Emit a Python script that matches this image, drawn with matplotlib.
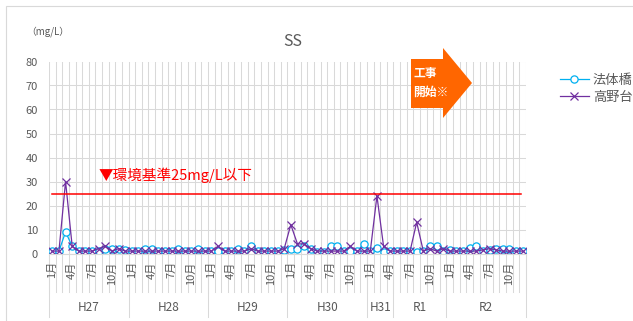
import numpy as np
import matplotlib.pyplot as plt
from matplotlib.patches import Polygon, Rectangle
from matplotlib.lines import Line2D
import matplotlib.transforms as mtransforms

plt.rcParams['font.family'] = ['Noto Sans CJK JP', 'DejaVu Sans']

# fiscal-year groups on the category axis and how many months each holds
groups = ["H27", "H28", "H29", "H30", "H31", "R1", "R2"]
group_sizes = [12, 12, 12, 12, 4, 8, 12]
months = list(range(1, 13)) * 4 + [1, 2, 3, 4] + list(range(5, 13)) + list(range(1, 13))

# SS (mg/L) monthly values
houtai = [1, 1, 9, 3, 1, 1, 1, 1, 2, 2, 2, 1.5,
          1, 1, 2, 2, 1, 1, 1, 2, 1, 1, 2, 1,
          1, 1, 1, 1, 2, 1, 3, 1, 1, 1, 1, 1.5,
          2, 2, 3, 2, 0.5, 0.7, 3, 3, 1, 1, 1, 4,
          1, 2.5, 0.7, 1,
          1, 1, 1, 0.5, 1, 3, 3, 1,
          1.5, 1, 1, 2.5, 3, 1, 1.5, 2, 2, 2, 1, 1]
takanodai = [1, 1, 30, 3, 1, 1, 1, 2, 3, 1, 2, 1,
             1, 1, 1, 1, 1, 1, 1, 1, 1, 1, 1, 1,
             1, 3, 1, 1, 1, 1, 2, 1, 1, 1, 1, 2,
             12, 4, 4, 2, 1, 1, 1, 1, 1, 3, 1, 1,
             1, 24, 3, 1,
             1, 1, 1, 13, 1, 2, 1, 2,
             1, 1, 1, 1, 1, 1.5, 2, 1.5, 1, 1, 1, 1]
standard = 25

W, H = 633, 321
fig = plt.figure(figsize=(W / 100, H / 100), dpi=100)


def fx(px):
    return px / W


def fy(py):
    return 1 - py / H


grey = '#595959'
gridc = '#D9D9D9'

# outer chart frame
fig.add_artist(Rectangle((fx(6), fy(330)), fx(700), fy(6) - fy(330),
                         transform=fig.transFigure, fill=False,
                         edgecolor=gridc, lw=0.8))

ax = fig.add_axes([fx(49), fy(253.5), fx(526) - fx(49), fy(61.5) - fy(253.5)])
n = len(months)
x = np.arange(n)

ax.plot(x, houtai, color='#00B0F0', lw=0.9, marker='o', ms=5.2,
        mfc='white', mec='#00B0F0', mew=0.9, label='法体橋')
ax.plot(x, takanodai, color='#7030A0', lw=0.9, marker='x', ms=5.8,
        mew=0.9, label='高野台')
ax.axhline(standard, xmin=0.006, xmax=0.99, color='#FF0000', lw=1.1)

ax.set_xlim(-0.5, n - 0.5)
ax.set_ylim(0, 80)
ax.set_yticks(range(0, 81, 10))
ax.set_xticks([])
ax.set_xticks(np.arange(-0.5, n, 1), minor=True)
ax.tick_params(axis='x', which='both', length=0, labelbottom=False)
ax.tick_params(axis='y', length=0, labelsize=8, labelcolor=grey, pad=8)
ax.grid(which='minor', axis='x', color=gridc, lw=0.75)
ax.grid(which='major', axis='y', color=gridc, lw=0.75)
ax.set_axisbelow(True)
for s in ['top', 'right', 'left']:
    ax.spines[s].set_visible(False)
ax.spines['bottom'].set_color(gridc)

# month labels and category tick marks below the axis
trans = mtransforms.blended_transform_factory(ax.transData, ax.transAxes)
for i, m in enumerate(months):
    if i % 3 == 0:
        ax.text(i, -0.04, f'{m}月', transform=trans, rotation=90,
                ha='center', va='top', fontsize=8, color=grey)
for b in np.arange(-0.5, n, 1):
    ax.add_line(Line2D([b, b], [0, -0.2], transform=trans, color=gridc,
                       lw=0.75, clip_on=False))

# year group labels and separators
start = 0
edges = [-0.5]
for g, size in zip(groups, group_sizes):
    ax.text(start + size / 2 - 0.5, -0.28, g, transform=trans,
            ha='center', va='center', fontsize=8.5, color=grey)
    start += size
    edges.append(start - 0.5)
for e in edges:
    ax.add_line(Line2D([e, e], [0, -0.33], transform=trans, color=gridc,
                       lw=0.75, clip_on=False))

fig.text(fx(293), fy(42), 'SS', ha='center', va='center',
         fontsize=11.5, color=grey)
fig.text(fx(26), fy(32), '（mg/L）', ha='left', va='center',
         fontsize=7, color=grey)
fig.text(fx(99), fy(175), '▼環境基準25mg/L以下', ha='left', va='center',
         fontsize=10.5, color='#FF0000')

# construction start arrow
pts = [(411, 59), (443, 59), (443, 48), (472, 83), (443, 118), (443, 108), (411, 108)]
fig.add_artist(Polygon([(fx(a), fy(b)) for a, b in pts], closed=True,
                       transform=fig.transFigure, facecolor='#FF6600',
                       edgecolor='none'))
fig.text(fx(413), fy(73), '工事', ha='left', va='center', fontsize=8.5,
         color='white', fontweight='bold')
fig.text(fx(413), fy(92), '開始※', ha='left', va='center', fontsize=8.5,
         color='white', fontweight='bold')

ax.legend(loc='upper left', bbox_to_anchor=(fx(548), fy(62)),
          bbox_transform=fig.transFigure, frameon=False, fontsize=9.5,
          handlelength=2.2, handletextpad=0.3, labelspacing=0.3,
          labelcolor=grey)

fig.savefig('out.png', dpi=100)
